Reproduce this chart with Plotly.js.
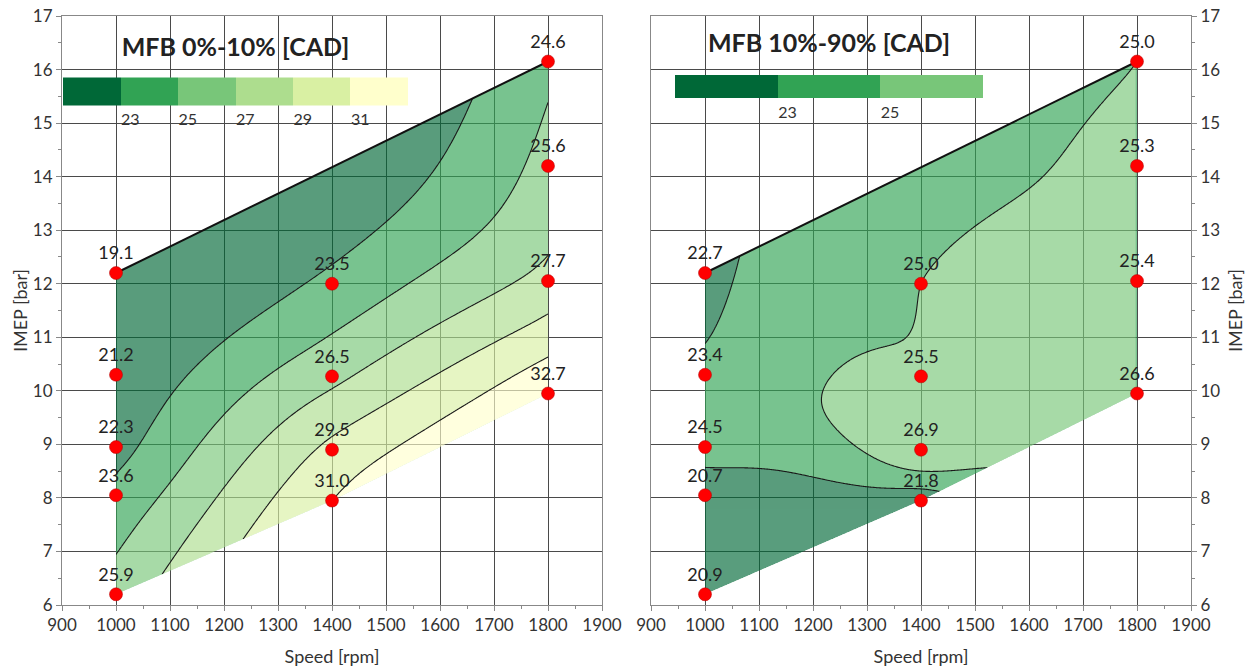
<!DOCTYPE html>
<html><head><meta charset="utf-8">
<script src="https://cdn.plot.ly/plotly-3.0.1.min.js"></script>
<style>html,body{margin:0;padding:0;background:#fff}#chart{width:1260px;height:672px}</style>
</head><body><div id="chart"></div>
<script>
// ---- data ----
const speed = [1000, 1000, 1000, 1000, 1000, 1400, 1400, 1400, 1400, 1800, 1800, 1800, 1800];
const imep  = [6.2, 8.05, 8.95, 10.3, 12.2, 7.95, 8.9, 10.27, 12.0, 9.95, 12.05, 14.2, 16.15];
const mfb0_10  = [25.9, 23.6, 22.3, 21.2, 19.1, 31.0, 29.5, 26.5, 23.5, 32.7, 27.7, 25.6, 24.6];
const mfb10_90 = [20.9, 20.7, 24.5, 23.4, 22.7, 21.8, 26.9, 25.5, 25.0, 26.6, 25.4, 25.3, 25.0];
const levels0_10  = {start: 23, end: 31, size: 2};
const levels10_90 = {start: 23, end: 25, size: 2};
const cbTicks0_10  = [23, 25, 27, 29, 31];
const cbTicks10_90 = [23, 25];
const colors0_10  = ['#006837', '#31a354', '#78c679', '#addd8e', '#d9f0a3', '#ffffcc'];
const colors10_90 = ['#006837', '#31a354', '#78c679'];
const title0_10  = 'MFB 0%-10% [CAD]';
const title10_90 = 'MFB 10%-90% [CAD]';

const FONT = 'Lato, "Open Sans", sans-serif';

// ---- thin plate spline through the measured points ----
function tps(px, py, pz) {
  const n = px.length, N = n + 3;
  const phi = d => d > 0 ? d * d * Math.log(d) : 0;
  const M = [], r = [];
  for (let i = 0; i < N; i++) { M.push(new Array(N).fill(0)); r.push(0); }
  for (let i = 0; i < n; i++) {
    for (let j = 0; j < n; j++) M[i][j] = phi(Math.hypot(px[i] - px[j], py[i] - py[j]));
    M[i][n] = 1; M[i][n + 1] = px[i]; M[i][n + 2] = py[i];
    M[n][i] = 1; M[n + 1][i] = px[i]; M[n + 2][i] = py[i];
    r[i] = pz[i];
  }
  for (let c = 0; c < N; c++) {
    let p = c;
    for (let k = c + 1; k < N; k++) if (Math.abs(M[k][c]) > Math.abs(M[p][c])) p = k;
    [M[c], M[p]] = [M[p], M[c]]; [r[c], r[p]] = [r[p], r[c]];
    for (let k = c + 1; k < N; k++) {
      const f = M[k][c] / M[c][c];
      for (let j = c; j < N; j++) M[k][j] -= f * M[c][j];
      r[k] -= f * r[c];
    }
  }
  const w = new Array(N).fill(0);
  for (let i = N - 1; i >= 0; i--) {
    let s = r[i];
    for (let j = i + 1; j < N; j++) s -= M[i][j] * w[j];
    w[i] = s / M[i][i];
  }
  return (x, y) => {
    let s = w[n] + w[n + 1] * x + w[n + 2] * y;
    for (let i = 0; i < n; i++) s += w[i] * phi(Math.hypot(x - px[i], y - py[i]));
    return s;
  };
}

// ---- boundary (convex hull of the measured points) ----
const cols = [...new Set(speed)].sort((a, b) => a - b);
const colMin = cols.map(c => [c, Math.min(...imep.filter((v, i) => speed[i] === c))]);
const colMax = cols.map(c => [c, Math.max(...imep.filter((v, i) => speed[i] === c))]);
function chain(pts, sign) {
  const out = [];
  const cross = (o, a, b) => (a[0] - o[0]) * (b[1] - o[1]) - (a[1] - o[1]) * (b[0] - o[0]);
  for (const p of pts) {
    while (out.length >= 2 && sign * cross(out[out.length - 2], out[out.length - 1], p) <= 0) out.pop();
    out.push(p);
  }
  return out;
}
const lowerHull = chain(colMin, 1);
const upperHull = chain(colMax, -1);
function interp(ch, x) {
  for (let i = 0; i < ch.length - 1; i++) {
    if (x <= ch[i + 1][0]) {
      const t = (x - ch[i][0]) / (ch[i + 1][0] - ch[i][0]);
      return ch[i][1] + t * (ch[i + 1][1] - ch[i][1]);
    }
  }
  return ch[ch.length - 1][1];
}

// ---- carpet grid built from the data ----
const NA = 321, NB = 121;
const aArr = [], bArr = [];
for (let i = 0; i < NA; i++) aArr.push(cols[0] + (cols[cols.length - 1] - cols[0]) * i / (NA - 1));
for (let j = 0; j < NB; j++) bArr.push(j / (NB - 1));
const GX = [], GY = [];
for (let j = 0; j < NB; j++) {
  const rx = [], ry = [];
  for (let i = 0; i < NA; i++) {
    const lo = interp(lowerHull, aArr[i]), hi = interp(upperHull, aArr[i]);
    rx.push(aArr[i]); ry.push(lo + bArr[j] * (hi - lo));
  }
  GX.push(rx); GY.push(ry);
}
function gridZ(vals) {
  const f = tps(speed.map(s => s / 100), imep, vals);
  return GY.map((row, j) => row.map((y, i) => f(GX[j][i] / 100, y)));
}

function bandScale(colors) {
  return colors.map((c, i) => [i / (colors.length - 1), c]);
}
function stepScale(colors) {
  const out = [], n = colors.length;
  colors.forEach((c, i) => { out.push([i / n, c]); out.push([(i + 1) / n, c]); });
  return out;
}

function panel(k, vals, levels, colors, ticks, title, cbx, cby, cblen, cbthick) {
  const xa = k === 1 ? 'x' : 'x2', ya = k === 1 ? 'y' : 'y2';
  const cid = 'carpet' + k;
  const Z = gridZ(vals);
  const axHide = {showgrid: false, showline: false, showticklabels: 'none', startline: false,
                  endline: false, minorgridcount: 0, smoothing: 0, tickmode: 'array', tickvals: []};
  return [
    {type: 'carpet', carpet: cid, a: aArr, b: bArr, x: GX, y: GY, xaxis: xa, yaxis: ya,
     aaxis: axHide, baxis: axHide, hoverinfo: 'skip'},
    {type: 'contourcarpet', carpet: cid, a: aArr, b: bArr, z: Z, xaxis: xa, yaxis: ya,
     autocontour: false,
     contours: {start: levels.start, end: levels.end, size: levels.size, coloring: 'fill', showlines: false},
     line: {width: 0, smoothing: 0},
     colorscale: bandScale(colors), opacity: 0.65, showscale: false, hoverinfo: 'skip'},
    {type: 'contourcarpet', carpet: cid, a: aArr, b: bArr, z: Z, xaxis: xa, yaxis: ya,
     autocontour: false,
     contours: {start: levels.start, end: levels.end, size: levels.size, coloring: 'none', showlines: true},
     line: {color: '#1a1a1a', width: 1.1, smoothing: 1}, showscale: false, hoverinfo: 'skip'},
    {type: 'scatter', mode: 'lines', x: upperHull.map(p => p[0]), y: upperHull.map(p => p[1]),
     xaxis: xa, yaxis: ya, line: {color: '#111', width: 2}, hoverinfo: 'skip', showlegend: false},
    // invisible carrier of the stepped colour bar
    {type: 'scatter', mode: 'markers', x: speed, y: imep, xaxis: xa, yaxis: ya, hoverinfo: 'skip',
     showlegend: false,
     marker: {size: 1, opacity: 0, color: vals, cmin: levels.start - levels.size,
              cmax: levels.end + levels.size, colorscale: stepScale(colors), showscale: true,
              colorbar: {orientation: 'h', xref: 'paper', yref: 'paper', x: cbx, y: cby,
                xanchor: 'center', yanchor: 'middle', lenmode: 'pixels', len: cblen, thickness: cbthick,
                outlinewidth: 0, xpad: 0, ypad: 0, tickmode: 'array', tickvals: ticks, ticks: '',
                ticklabelposition: 'outside right',
                tickfont: {family: FONT, size: 16, color: '#333'},
                title: {text: title, side: 'top', font: {family: FONT, size: 25, color: '#222', weight: 'bold'}}}}},
    {type: 'scatter', mode: 'markers+text', x: speed, y: imep, text: vals.map(v => v.toFixed(1)),
     textposition: 'top center', textfont: {family: FONT, size: 18, color: '#222'},
     marker: {color: '#ff0000', size: 13, line: {color: '#b00000', width: 0.5}},
     xaxis: xa, yaxis: ya, cliponaxis: false, hoverinfo: 'skip', showlegend: false}
  ];
}

const PL = 62, PW = 1129, PT = 16, PH = 589;
const data = [
  ...panel(1, mfb0_10, levels0_10, colors0_10, cbTicks0_10, title0_10,
           (235.5 - PL) / PW, (PT + PH - 86.5) / PH, 345, 28),
  ...panel(2, mfb10_90, levels10_90, colors10_90, cbTicks10_90, title10_90,
           (829 - PL) / PW, (PT + PH - 80.7) / PH, 308, 23)
];

function xAxis(domain, anchor) {
  return {domain, anchor, range: [900, 1900], tick0: 900, dtick: 100, showgrid: true, gridcolor: '#4a4a4a',
          gridwidth: 1, zeroline: false, showline: true, linecolor: '#888', linewidth: 1, mirror: true,
          ticks: 'outside', ticklen: 5, tickcolor: '#888',
          minor: {ticks: 'outside', ticklen: 3, dtick: 50, tickcolor: '#888', showgrid: false},
          tickfont: {family: FONT, size: 17, color: '#333'},
          title: {text: 'Speed [rpm]', font: {family: FONT, size: 18, color: '#333'}, standoff: 15},
          automargin: false, fixedrange: true};
}
function yAxis(anchor, side, standoff) {
  return {anchor, side, domain: [0, 1], range: [6, 17], tick0: 6, dtick: 1, showgrid: true, gridcolor: '#4a4a4a',
          gridwidth: 1, zeroline: false, showline: true, linecolor: '#888', linewidth: 1, mirror: true,
          ticks: 'outside', ticklen: 5, tickcolor: '#888',
          minor: {ticks: 'outside', ticklen: 3, dtick: 0.5, tickcolor: '#888', showgrid: false},
          tickfont: {family: FONT, size: 17, color: '#333'},
          title: {text: 'IMEP [bar]', font: {family: FONT, size: 18, color: '#333'}, standoff},
          automargin: false, fixedrange: true};
}

const layout = {
  width: 1260, height: 672,
  margin: {l: PL, r: 1260 - PL - PW, t: PT, b: 672 - PT - PH, autoexpand: false},
  paper_bgcolor: '#fff', plot_bgcolor: '#fff',
  showlegend: false,
  font: {family: FONT, color: '#333'},
  xaxis: xAxis([0, 540 / PW], 'y'),
  yaxis: yAxis('x', 'left', 0),
  xaxis2: xAxis([589 / PW, 1], 'y2'),
  yaxis2: yAxis('x2', 'right', 10)
};

Plotly.newPlot('chart', data, layout, {displayModeBar: false, staticPlot: true});
</script>
</body></html>
